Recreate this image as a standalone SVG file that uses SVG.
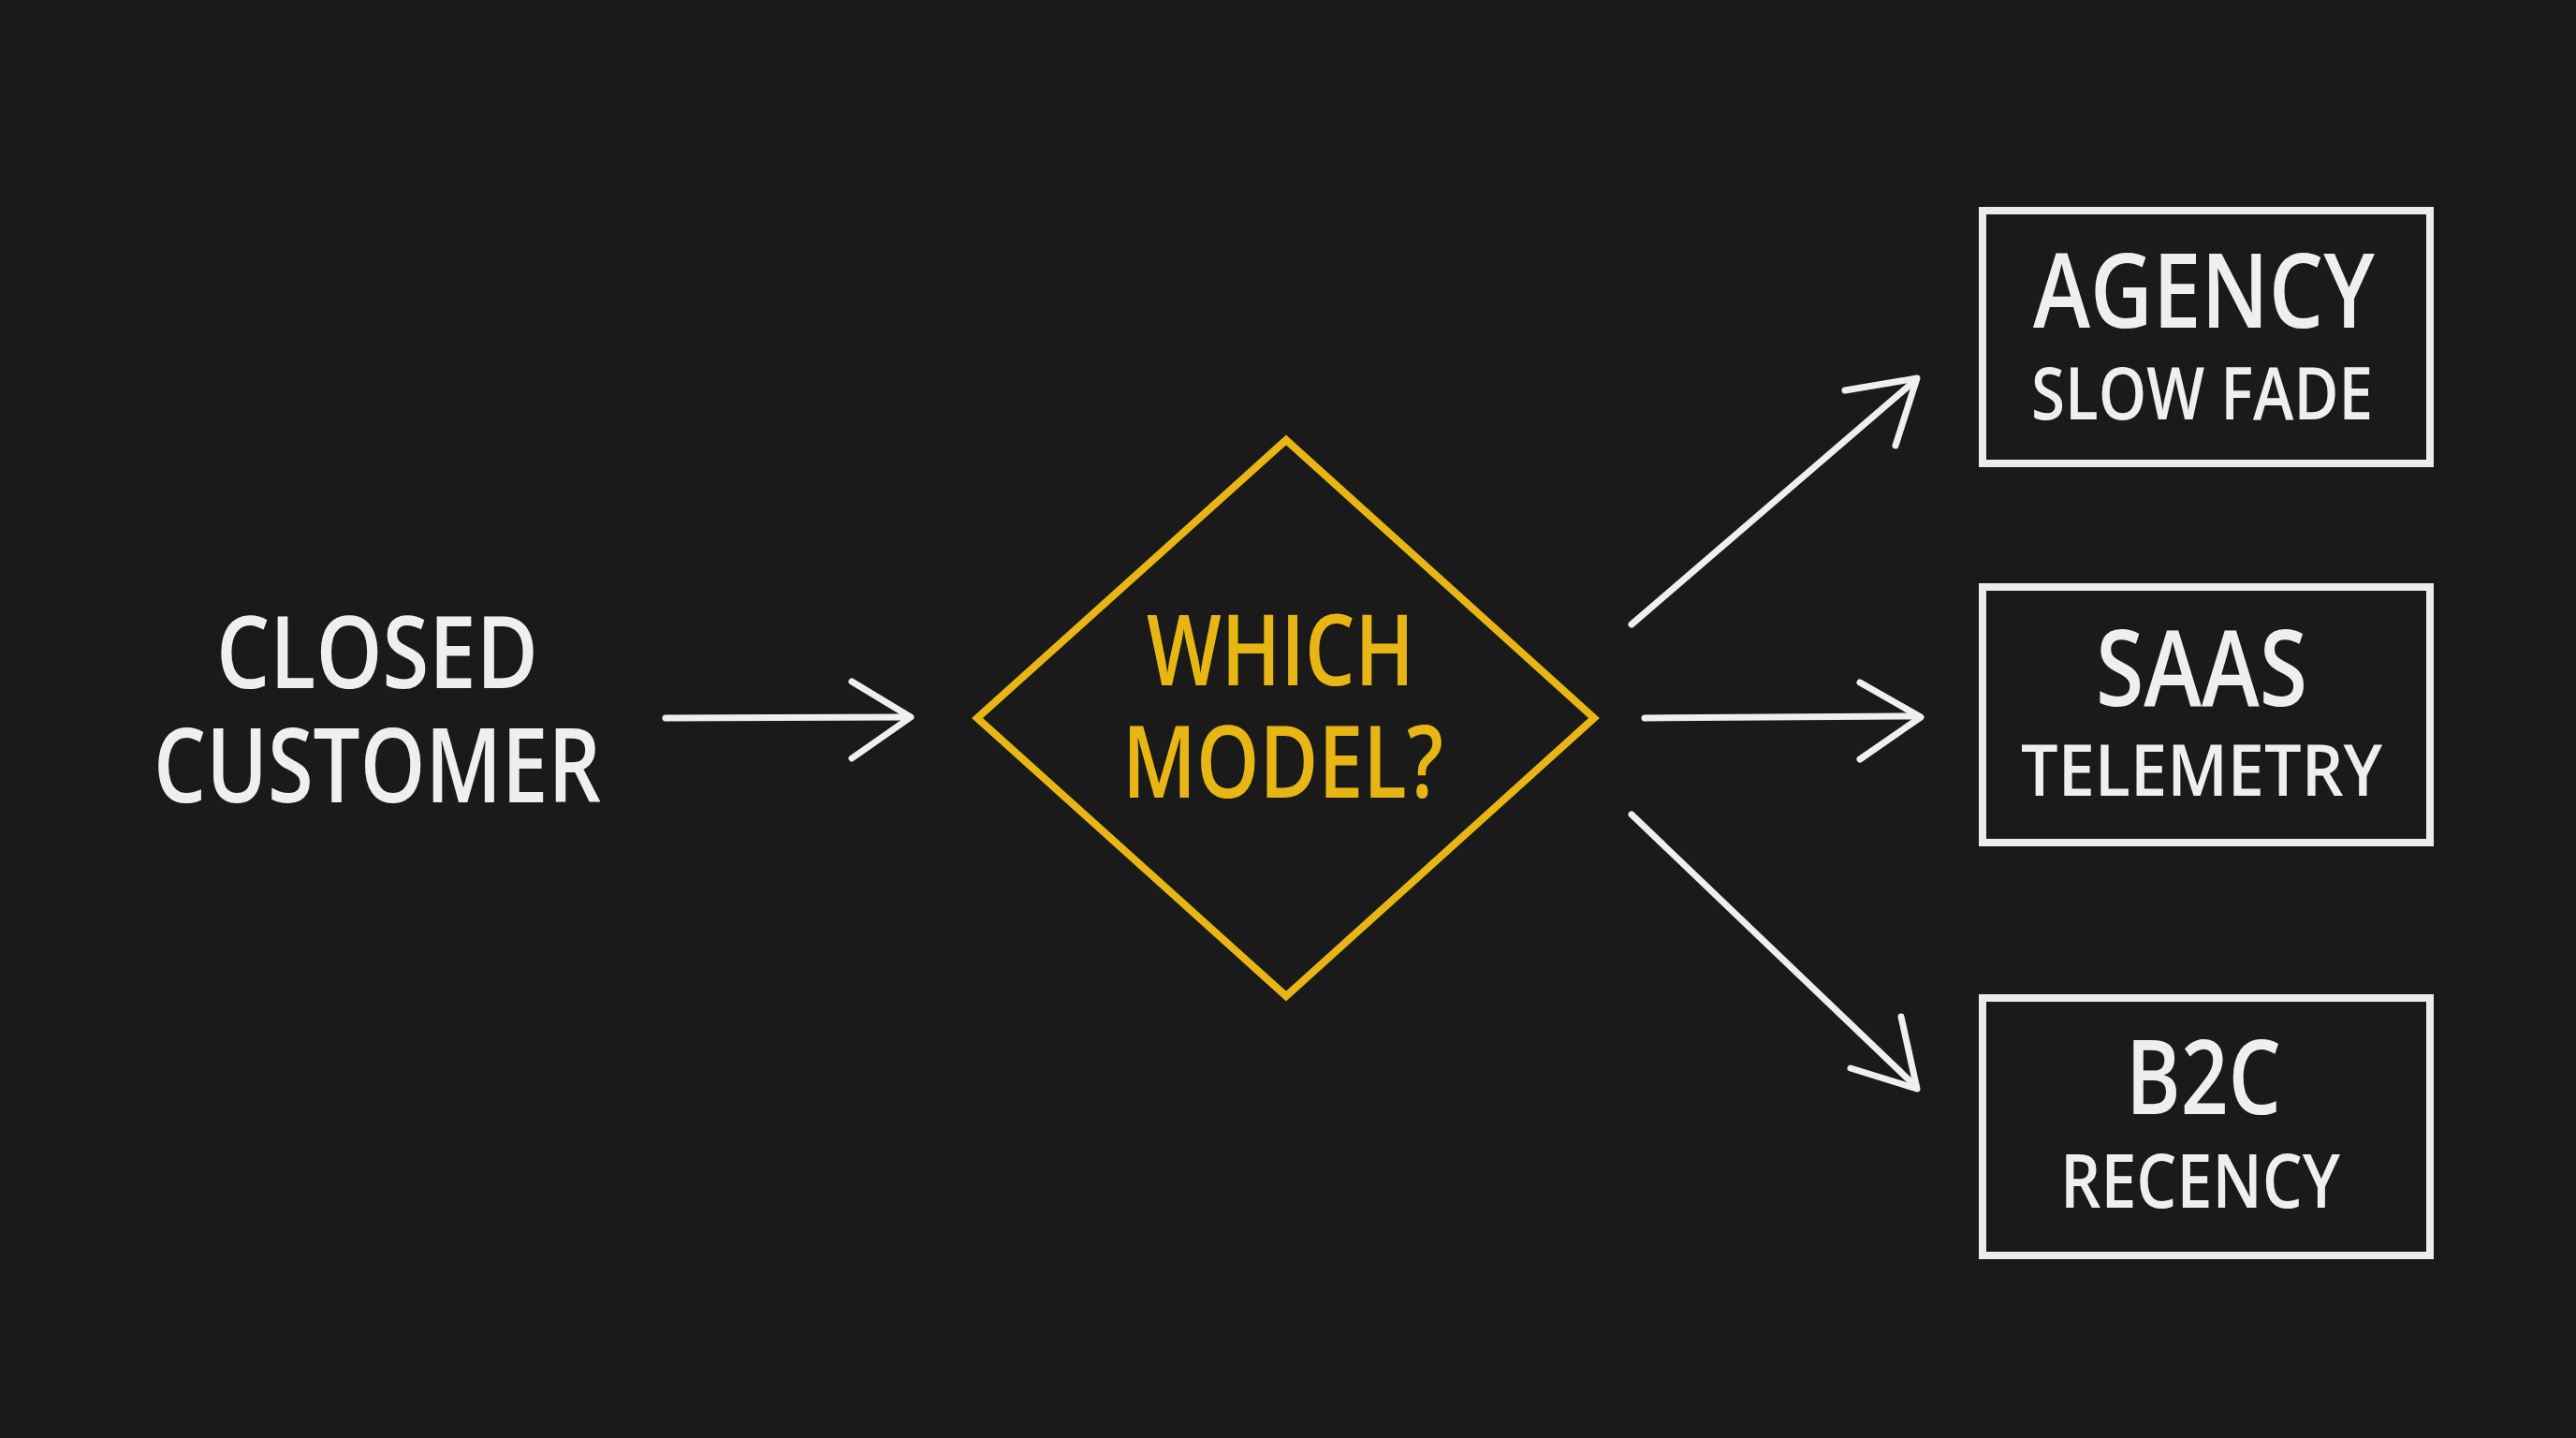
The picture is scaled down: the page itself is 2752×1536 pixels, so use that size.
<svg xmlns="http://www.w3.org/2000/svg" width="2752" height="1536" viewBox="0 0 2752 1536">
<style>
.bg{fill:#1a1a1a}
.t{font-family:"Open Sans","Liberation Sans",sans-serif;font-weight:600;fill:#efefef}
.y{fill:#e8b614}
.box{fill:none;stroke:#ececec;stroke-width:8}
.dia{fill:none;stroke:#e8b614;stroke-width:8;stroke-linejoin:miter}
.ln{fill:none;stroke:#efefef;stroke-width:7;stroke-linecap:round;stroke-linejoin:round}
</style>
<rect class="bg" x="0" y="0" width="2752" height="1536"/>
<g id="closed-customer">
<text class="t" x="231" y="735" font-size="107" textLength="344" lengthAdjust="spacingAndGlyphs">CLOSED</text>
<text class="t" x="164" y="857" font-size="110" textLength="478" lengthAdjust="spacingAndGlyphs">CUSTOMER</text>
</g>
<g id="which-model">
<polygon class="dia" points="1374,470 1703,767 1374,1064 1044,767"/>
<text class="t y" x="1225" y="732" font-size="105" textLength="286" lengthAdjust="spacingAndGlyphs">WHICH</text>
<text class="t y" x="1199" y="852" font-size="107" textLength="343" lengthAdjust="spacingAndGlyphs">MODEL?</text>
</g>
<g id="agency">
<rect class="box" x="2118" y="225" width="478" height="270"/>
<text class="t" x="2172" y="350" font-size="110" textLength="365" lengthAdjust="spacingAndGlyphs">AGENCY</text>
<text class="t" x="2170" y="448" font-size="78" textLength="365" lengthAdjust="spacingAndGlyphs">SLOW FADE</text>
</g>
<g id="saas">
<rect class="box" x="2118" y="627" width="478" height="273"/>
<text class="t" x="2239" y="754" font-size="112" textLength="226" lengthAdjust="spacingAndGlyphs">SAAS</text>
<text class="t" x="2159" y="850" font-size="76" textLength="386" lengthAdjust="spacingAndGlyphs">TELEMETRY</text>
</g>
<g id="b2c">
<rect class="box" x="2118" y="1066" width="478" height="275"/>
<text class="t" x="2271" y="1190" font-size="110" textLength="166" lengthAdjust="spacingAndGlyphs">B2C</text>
<text class="t" x="2201" y="1290" font-size="80" textLength="299" lengthAdjust="spacingAndGlyphs">RECENCY</text>
</g>
<g id="connectors">
<path class="ln" d="M711,767 L965,766"/>
<path class="ln" d="M910,728 L973,766 L910,810"/>
<path class="ln" d="M1743,667 L2044,408"/>
<path class="ln" d="M1971,417 L2048,404 L2025,476"/>
<path class="ln" d="M1757,767 L2046,765"/>
<path class="ln" d="M1987,729 L2052,766 L1987,811"/>
<path class="ln" d="M1743,870 L2044,1158"/>
<path class="ln" d="M2031,1086 L2048,1163 L1977,1141"/>
</g>
</svg>
